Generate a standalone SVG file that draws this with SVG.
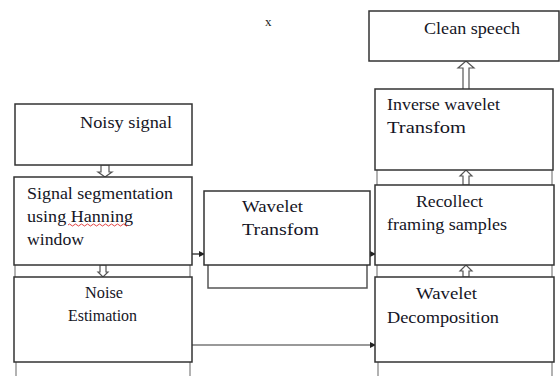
<svg xmlns="http://www.w3.org/2000/svg" width="560" height="376" viewBox="0 0 560 376">
<style>
.box{fill:#fff;stroke:#333;stroke-width:1.5}
.frame{fill:none;stroke:#999;stroke-width:1.5}
.hollow{fill:#fff;stroke:#555;stroke-width:1.2}
.t{font-family:"Liberation Serif","Times New Roman",serif;font-size:17px;fill:#151525}
.conn{fill:none;stroke:#444;stroke-width:1.5}
.conng{fill:none;stroke:#777;stroke-width:1.5}
</style>
<defs>
<marker id="ah" markerWidth="6" markerHeight="6" refX="5" refY="3" orient="auto" markerUnits="userSpaceOnUse">
<path d="M0,0 L6,3 L0,6 Z" fill="#222"/>
</marker>
</defs>
<rect width="560" height="376" fill="#fff"/>
<text x="265" y="26" style="font-family:'Liberation Serif',serif;font-size:13px;fill:#222">x</text>

<g id="frames">
<line class="frame" x1="15" y1="265" x2="15" y2="277"/>
<line class="frame" x1="190" y1="265" x2="190" y2="277"/>
<line class="frame" x1="16" y1="362" x2="16" y2="376"/>
<line class="frame" x1="190" y1="362" x2="190" y2="376"/>
<line class="frame" x1="377" y1="170" x2="377" y2="185"/>
<line class="frame" x1="552" y1="170" x2="552" y2="185"/>
<line class="frame" x1="377" y1="265" x2="377" y2="277"/>
<line class="frame" x1="552" y1="265" x2="552" y2="277"/>
<line class="frame" x1="378" y1="362" x2="378" y2="376"/>
<line class="frame" x1="552" y1="362" x2="552" y2="376"/>
<rect x="208" y="262" width="159" height="26" fill="none" stroke="#555" stroke-width="1.5"/>
</g>

<g id="connectors">
<polygon class="hollow" points="101,165 101,172 98,172 105,177 112,172 109,172 109,165"/>
<polygon class="hollow" points="100,265 100,272 98,272 103,277 108,272 106,272 106,265"/>
<polygon class="hollow" points="463,91 463,68 458,68 466,61 474,68 469,68 469,91"/>
<polygon class="hollow" points="463,185 463,176 460,176 466,170 472,176 469,176 469,185"/>
<polygon class="hollow" points="463,277 463,271 460,271 466,265 472,271 469,271 469,277"/>
<line class="conn" x1="192" y1="254" x2="204" y2="254" marker-end="url(#ah)"/>
<line class="conn" x1="370" y1="254" x2="375" y2="254" marker-end="url(#ah)"/>
<line class="conng" x1="192" y1="345" x2="375" y2="345" marker-end="url(#ah)"/>
</g>

<g id="noisy">
<rect class="box" x="15" y="104" width="177" height="61"/>
<text class="t" x="80" y="128" textLength="92" lengthAdjust="spacingAndGlyphs">Noisy signal</text>
</g>

<g id="segmentation">
<rect class="box" x="14" y="177" width="178" height="88"/>
<text class="t" x="27" y="199" textLength="146" lengthAdjust="spacingAndGlyphs">Signal segmentation</text>
<text class="t" x="27" y="222" textLength="106" lengthAdjust="spacingAndGlyphs">using Hanning</text>
<path d="M68,225 q1.5,-2 3,0 t3,0 t3,0 t3,0 t3,0 t3,0 t3,0 t3,0 t3,0 t3,0 t3,0 t3,0 t3,0 t3,0 t3,0 t3,0 t3,0 t3,0 t3,0 t3,0" fill="none" stroke="#e03030" stroke-width="0.9"/>
<text class="t" x="27" y="245" textLength="57" lengthAdjust="spacingAndGlyphs">window</text>
</g>

<g id="noise">
<rect class="box" x="14" y="277" width="178" height="85"/>
<text class="t" x="85" y="298" textLength="38" lengthAdjust="spacingAndGlyphs">Noise</text>
<text class="t" x="68" y="321" textLength="69" lengthAdjust="spacingAndGlyphs">Estimation</text>
</g>

<g id="wavelet">
<rect class="box" x="204" y="191" width="166" height="74"/>
<text class="t" x="242" y="212" textLength="61" lengthAdjust="spacingAndGlyphs">Wavelet</text>
<text class="t" x="242" y="235" textLength="77" lengthAdjust="spacingAndGlyphs">Transfom</text>
</g>

<g id="clean">
<rect class="box" x="369" y="11" width="190" height="50"/>
<text class="t" x="424" y="34" textLength="96" lengthAdjust="spacingAndGlyphs">Clean speech</text>
</g>

<g id="inverse">
<rect class="box" x="375" y="89" width="178" height="81"/>
<text class="t" x="387" y="110" textLength="113" lengthAdjust="spacingAndGlyphs">Inverse wavelet</text>
<text class="t" x="387" y="133" textLength="79" lengthAdjust="spacingAndGlyphs">Transfom</text>
</g>

<g id="recollect">
<rect class="box" x="375" y="185" width="179" height="80"/>
<text class="t" x="416" y="207" textLength="67" lengthAdjust="spacingAndGlyphs">Recollect</text>
<text class="t" x="387" y="230" textLength="120" lengthAdjust="spacingAndGlyphs">framing samples</text>
</g>

<g id="decomposition">
<rect class="box" x="375" y="277" width="179" height="85"/>
<text class="t" x="416" y="299" textLength="61" lengthAdjust="spacingAndGlyphs">Wavelet</text>
<text class="t" x="387" y="323" textLength="112" lengthAdjust="spacingAndGlyphs">Decomposition</text>
</g>
</svg>
